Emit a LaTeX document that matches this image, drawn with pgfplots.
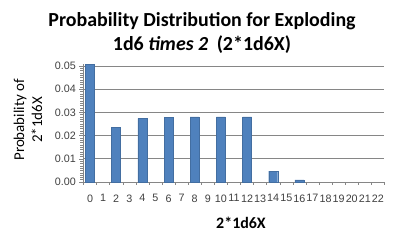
\documentclass[border=0pt]{standalone}
\usepackage{pgfplots}
\pgfplotsset{compat=1.18}
\usepackage{fontspec}
\setmainfont{Carlito}
\newfontfamily\tickfont{Liberation Sans}
\definecolor{barblue}{HTML}{4F81BD}
\definecolor{gridgray}{HTML}{868686}
\begin{document}
\begin{tikzpicture}[x=1bp,y=1bp]
\path[use as bounding box] (0,0) rectangle (400,241);
\begin{axis}[
  at={(90bp,59bp)}, anchor=origin,
  scale only axis,
  width=301bp, height=118.4bp,
  xmin=-0.5, xmax=22.5, ymin=0, ymax=0.051,
  axis x line*=bottom, axis y line*=left,
  axis line style={gridgray},
  xtick={0,...,22}, major x tick style={draw=none},
  minor xtick={-0.5,0.5,...,22.5},
  minor x tick style={gridgray},
  ytick={0,0.01,0.02,0.03,0.04,0.05},
  minor y tick num=9,
  tick align=outside,
  major tick length=4bp, minor tick length=3bp,
  every tick/.style={gridgray},
  ymajorgrids, grid style={gridgray, line width=0.6pt},
  scaled y ticks=false,
  yticklabel style={/pgf/number format/fixed, /pgf/number format/fixed zerofill, /pgf/number format/precision=2},
  /pgf/number format/assume math mode=true,
  tick label style={font=\tickfont\fontsize{10.8}{12}\selectfont, text=black!75},
  xticklabel style={yshift=-5bp},
  ybar, bar width=9bp,
  clip=false,
]
\addplot[fill=barblue, draw=barblue!85!black, line width=0.4pt] coordinates {
(0,0.0508) (2,0.0234) (4,0.0274) (6,0.0277)
(8,0.0280) (10,0.0280) (12,0.0280) (14,0.0047)
(16,0.0009)
};
\end{axis}
\node[font=\bfseries\fontsize{20}{24}\selectfont, align=center] at (202,208) {Probability Distribution for Exploding\\1d6 \textit{times 2}\hspace{4bp} (2*1d6X)};
\node[font=\fontsize{15}{18}\selectfont, rotate=90, align=center] at (28,121) {Probability of\\2*1d6X};
\node[font=\bfseries\fontsize{16}{18}\selectfont] at (241,18) {2*1d6X};
\end{tikzpicture}
\end{document}
